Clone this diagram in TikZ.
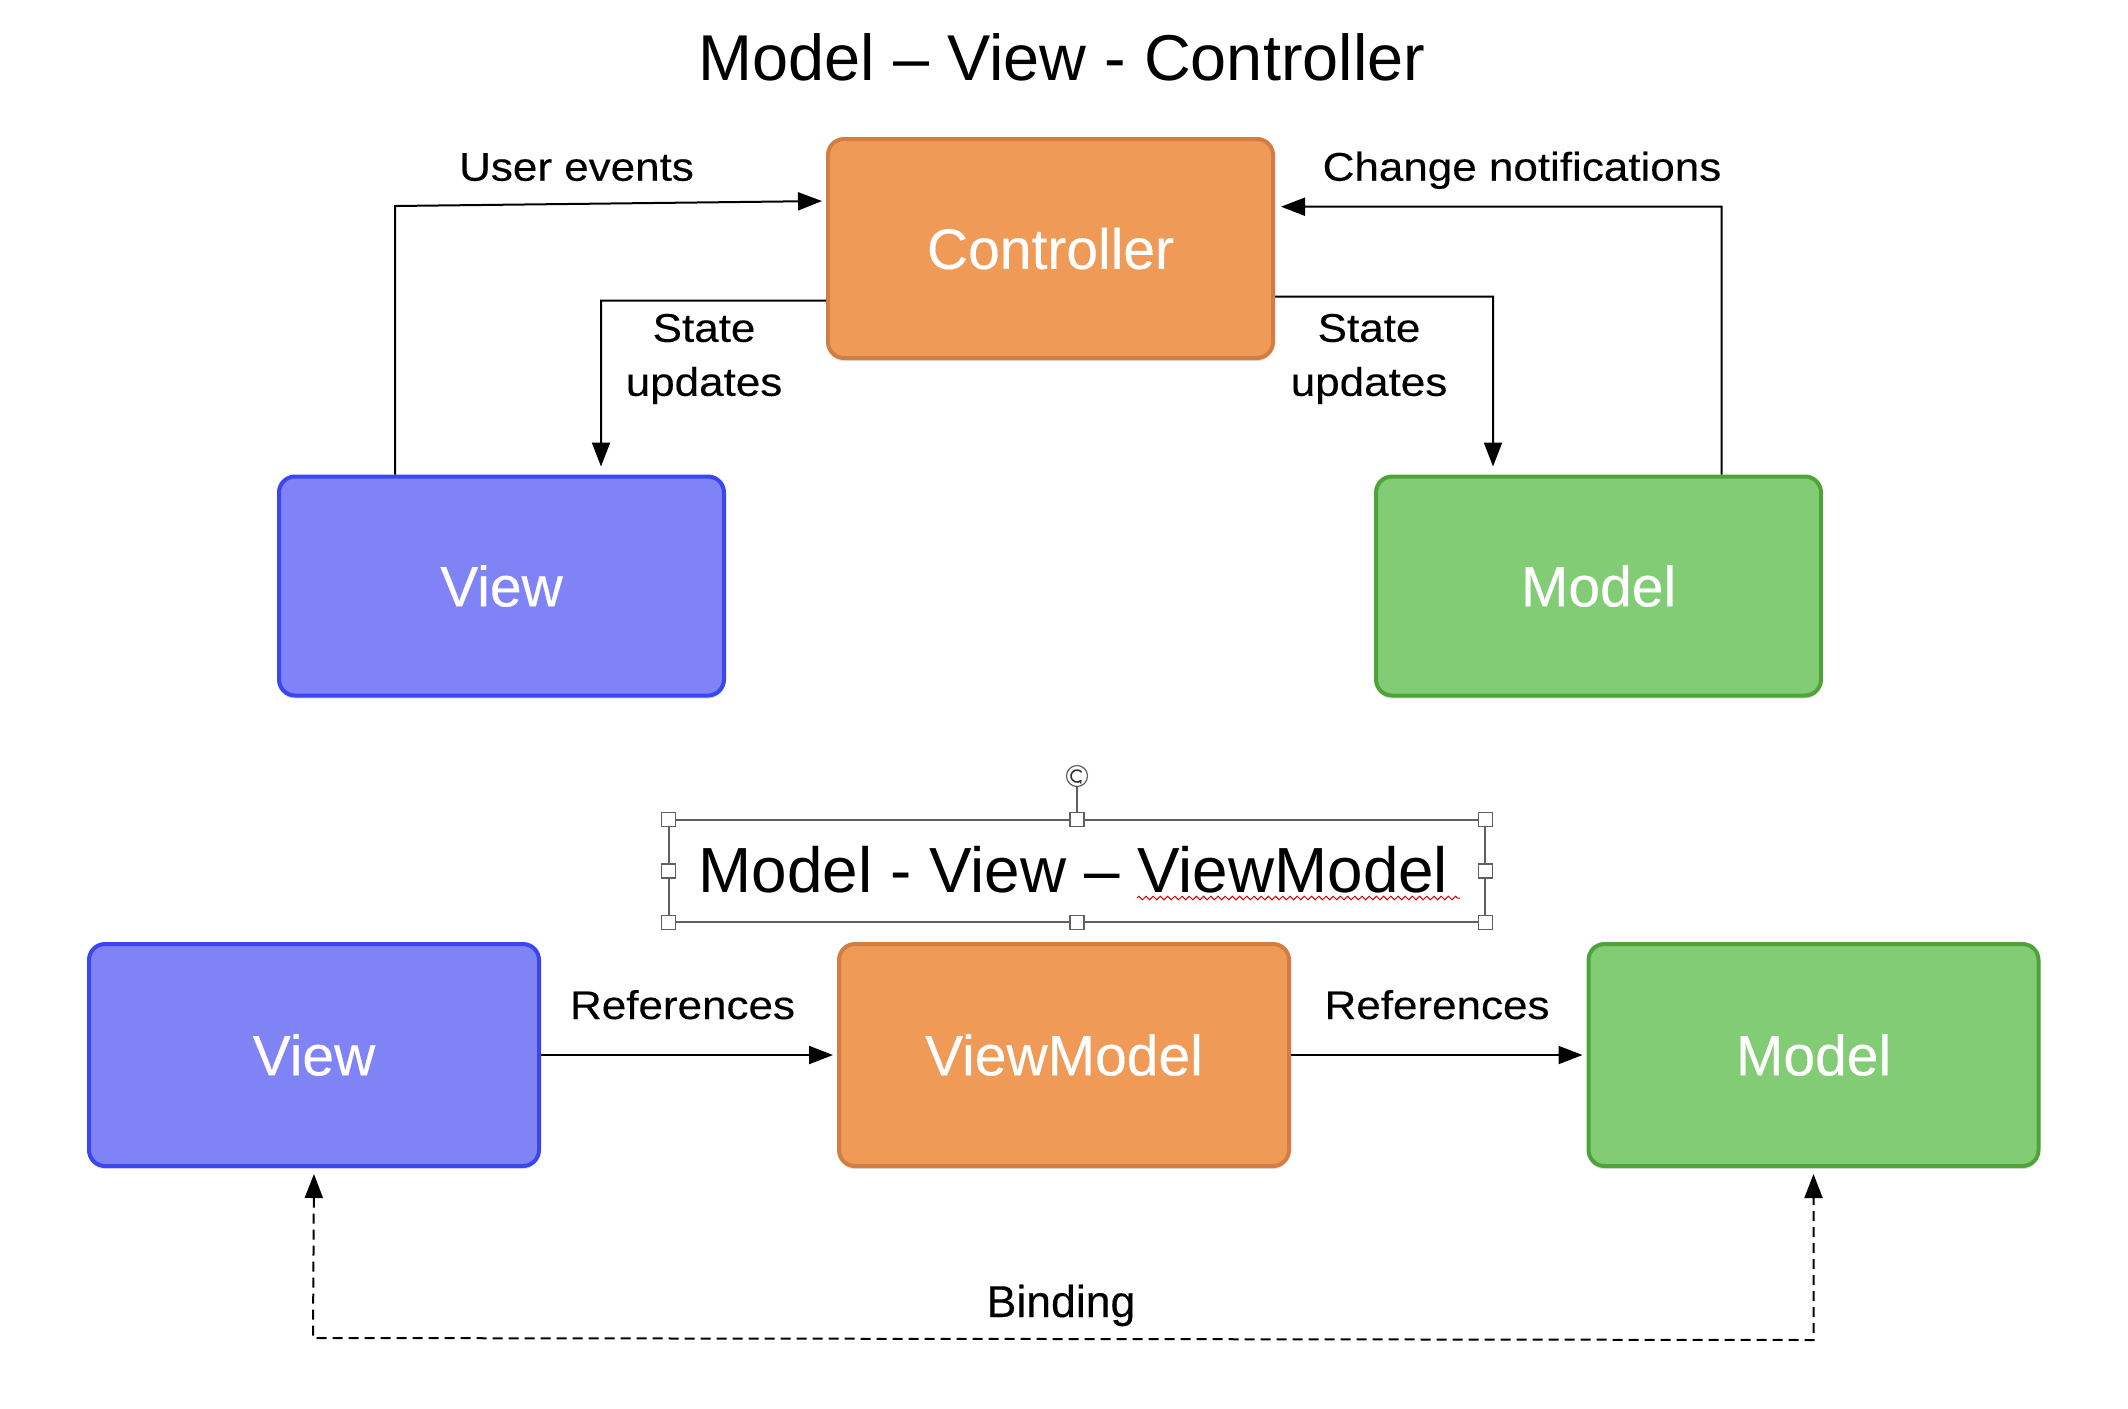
\documentclass[tikz,border=0pt]{standalone}
\usepackage{fontspec}
\setmainfont{Liberation Sans}
\newfontfamily\lblfont[FakeStretch=1.1,FakeBold=0.25]{Liberation Sans}
\newfontfamily\boxfont[FakeBold=0.25]{Liberation Sans}
\usetikzlibrary{arrows.meta,shadows,decorations.pathmorphing}
\definecolor{vfill}{RGB}{127,131,246}
\definecolor{vdraw}{RGB}{58,70,240}
\definecolor{cfill}{RGB}{240,154,87}
\definecolor{cdraw}{RGB}{210,126,66}
\definecolor{mfill}{RGB}{130,204,117}
\definecolor{mdraw}{RGB}{78,164,56}
\definecolor{hgray}{RGB}{95,95,95}
\tikzset{
  box/.style={rounded corners=8pt, line width=2pt, text=white, inner sep=0pt,
    font=\boxfont\fontsize{28.5}{34}\selectfont,
    drop shadow={opacity=0.25, shadow xshift=0pt, shadow yshift=-1.6pt}},
  topbox/.style={box, minimum width=222.5pt, minimum height=109.5pt},
  botbox/.style={box, minimum width=225pt, minimum height=111pt},
  viewbox/.style={fill=vfill, draw=vdraw},
  ctrlbox/.style={fill=cfill, draw=cdraw},
  modelbox/.style={fill=mfill, draw=mdraw},
  conn/.style={line width=1pt, -{Triangle[length=12pt,width=9pt]}},
  lbl/.style={font=\lblfont\fontsize{20}{27}\selectfont, inner sep=0pt, align=center},
  ttl/.style={inner sep=0pt, anchor=base},
  handle/.style={draw=hgray, fill=white, line width=0.6pt, minimum size=7pt, inner sep=0pt},
}
\begin{document}
\begin{tikzpicture}[x=0.5pt, y=-0.5pt]
\fill[white] (0,0) rectangle (2128,1408);
\useasboundingbox (0,0) rectangle (2128,1408);

% ---------- MVC ----------
\node[ttl, font=\fontsize{32.4}{38}\selectfont] (t1) at (1062,80) {Model – View - Controller};

\node[topbox, ctrlbox] (ctrl) at (1050.5,248.5) {Controller};
\node[topbox, viewbox] (vtop) at (501.5,586) {View};
\node[topbox, modelbox] (mtop) at (1598.5,586) {Model};

\coordinate (ue) at (395,206);
\coordinate (sl) at (601,300.7);
\coordinate (sr) at (1493,296.7);
\coordinate (cn) at (1721.7,206.7);

\draw[conn, shorten >=2pt] ([xshift=-53.25pt]vtop.north) -- (ue) -- ([yshift=23.75pt]ctrl.west);
\draw[conn, shorten >=4pt] ([yshift=-26pt]ctrl.west) -- (sl) -- ([xshift=49.75pt]vtop.north);
\draw[conn, shorten >=4pt] ([yshift=-24pt]ctrl.east) -- (sr) -- ([xshift=-52.75pt]mtop.north);
\draw[conn, shorten >=3pt] ([xshift=61.6pt]mtop.north) -- (cn) -- ([yshift=20.9pt]ctrl.east);

\node[lbl, anchor=base] (lue) at (576.5,180.7) {User events};
\node[lbl, anchor=base] (lcn) at (1522,180.7) {Change notifications};
\node[lbl] (lsl) at (704,359) {State\\updates};
\node[lbl] (lsr) at (1369,359) {State\\updates};

% ---------- MVVM ----------
\node[draw=hgray, line width=0.8pt, minimum width=408pt, minimum height=51pt, inner sep=0pt] (tbox) at (1077,871) {};
\node[ttl, font=\fontsize{31.9}{37}\selectfont] (t2) at (1073.5,892.7) {Model - View – ViewModel};
\draw[red!85!black, line width=0.5pt, decorate, decoration={zigzag, segment length=3.6pt, amplitude=0.9pt}] (1137,898) -- (1460,898);

\node[handle] (h1) at (tbox.north west) {};
\node[handle] (h2) at (tbox.north) {};
\node[handle] (h3) at (tbox.north east) {};
\node[handle] (h4) at (tbox.west) {};
\node[handle] (h5) at (tbox.east) {};
\node[handle] (h6) at (tbox.south west) {};
\node[handle] (h7) at (tbox.south) {};
\node[handle] (h8) at (tbox.south east) {};
\node[circle, draw=hgray, fill=white, line width=0.6pt, minimum size=10.5pt, inner sep=0pt] (rot) at (1077,776) {};
\draw[hgray, line width=0.6pt] (rot) -- (h2);
\draw[black!80, line width=0.8pt, -{Stealth[length=2pt,width=2.6pt]}] ([shift={(2.3pt,1.9pt)}]rot.center) arc[start angle=40, end angle=320, radius=3pt];

\node[botbox, viewbox] (bview) at (314,1055) {View};
\node[botbox, ctrlbox] (bvm) at (1064,1055) {ViewModel};
\node[botbox, modelbox] (bmodel) at (1813.5,1055) {Model};

\draw[conn, shorten >=2pt] (bview.east) -- (bvm.west);
\draw[conn, shorten >=2pt] (bvm.east) -- (bmodel.west);
\node[lbl, anchor=base] (lr1) at (682.5,1019) {References};
\node[lbl, anchor=base] (lr2) at (1437,1019) {References};

\coordinate (bl) at (313,1338);
\coordinate (br) at (1813.5,1340);
\draw[line width=1pt, dash pattern=on 5pt off 3pt,
  {Triangle[length=12pt,width=9pt]}-{Triangle[length=12pt,width=9pt]},
  shorten <=3pt, shorten >=3pt] (bview.south) -- (bl) -- (br) -- (bmodel.south);
\node[ttl, font=\boxfont\fontsize{22.3}{26}\selectfont] (lb) at (1061,1317) {Binding};
\end{tikzpicture}
\end{document}
